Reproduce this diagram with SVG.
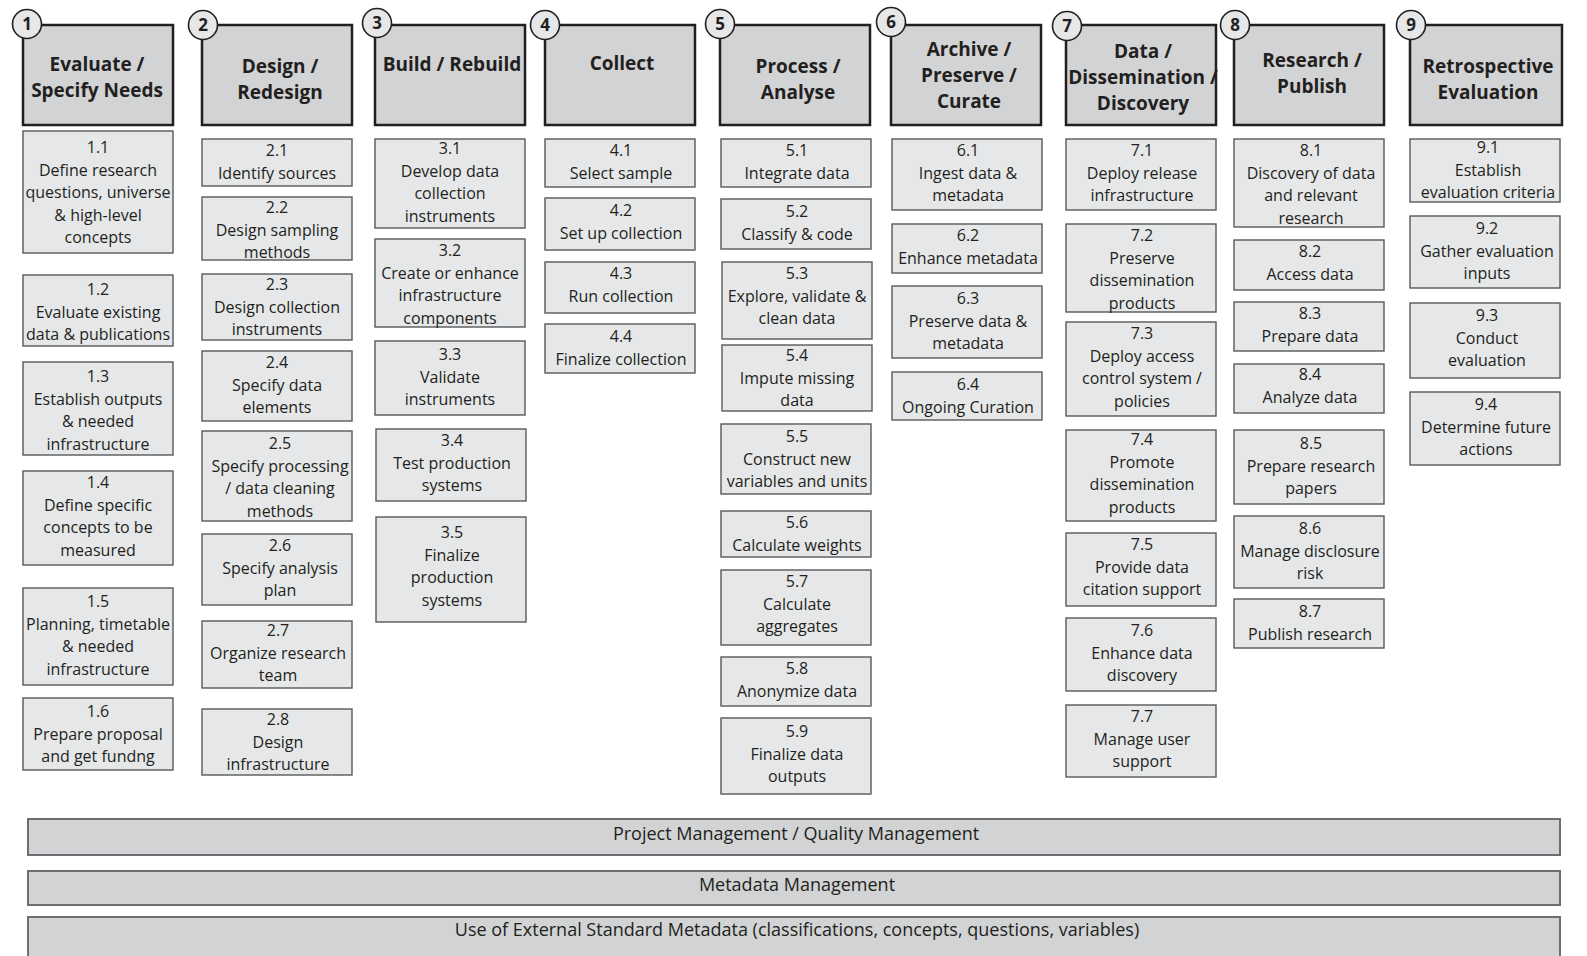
<svg xmlns="http://www.w3.org/2000/svg" width="1587" height="956" viewBox="0 0 1587 956">
<style>
.hd{fill:#d1d3d4;stroke:#231f20;stroke-width:2.5}
.sb{fill:#e6e7e8;stroke:#58595b;stroke-width:1.4}
.bar{fill:#d1d3d4;stroke:#6d6e71;stroke-width:2}
.ci{fill:#e6e7e8;stroke:#231f20;stroke-width:1.6}
.ht{font-family:"Open Sans","Noto Sans",sans-serif;font-weight:bold;font-size:19px;fill:#231f20;text-anchor:middle}
.st{font-family:"Open Sans","Noto Sans",sans-serif;font-size:16px;fill:#231f20;text-anchor:middle}
.nt{font-family:"Open Sans","Noto Sans",sans-serif;font-weight:bold;font-size:17px;fill:#231f20;text-anchor:middle}
.bt{font-family:"Open Sans","Noto Sans",sans-serif;font-size:18px;fill:#231f20;text-anchor:middle}
</style>
<rect width="1587" height="956" fill="#ffffff"/>
<g id="connectors"/>

<!-- Headers -->
<g id="h1"><rect class="hd" x="23" y="25" width="150" height="100"/><circle class="ci" cx="27" cy="24" r="14.5"/><text class="nt" x="27" y="30">1</text><text class="ht" x="97" y="71">Evaluate /<tspan x="97" dy="26">Specify Needs</tspan></text></g>
<g id="h2"><rect class="hd" x="202" y="25" width="150" height="100"/><circle class="ci" cx="203" cy="25" r="14.5"/><text class="nt" x="203" y="31">2</text><text class="ht" x="280" y="73">Design /<tspan x="280" dy="26">Redesign</tspan></text></g>
<g id="h3"><rect class="hd" x="375" y="25" width="150" height="100"/><circle class="ci" cx="377" cy="23" r="14.5"/><text class="nt" x="377" y="29">3</text><text class="ht" x="452" y="71">Build / Rebuild</text></g>
<g id="h4"><rect class="hd" x="545" y="25" width="150" height="100"/><circle class="ci" cx="545" cy="25" r="14.5"/><text class="nt" x="545" y="31">4</text><text class="ht" x="622" y="70">Collect</text></g>
<g id="h5"><rect class="hd" x="720" y="25" width="150" height="100"/><circle class="ci" cx="720" cy="24" r="14.5"/><text class="nt" x="720" y="30">5</text><text class="ht" x="798" y="73">Process /<tspan x="798" dy="26">Analyse</tspan></text></g>
<g id="h6"><rect class="hd" x="891" y="25" width="150" height="100"/><circle class="ci" cx="891" cy="22" r="14.5"/><text class="nt" x="891" y="28">6</text><text class="ht" x="969" y="56">Archive /<tspan x="969" dy="26">Preserve /</tspan><tspan x="969" dy="26">Curate</tspan></text></g>
<g id="h7"><rect class="hd" x="1066" y="25" width="150" height="100"/><circle class="ci" cx="1067" cy="26" r="14.5"/><text class="nt" x="1067" y="32">7</text><text class="ht" x="1143" y="58">Data /<tspan x="1143" dy="26">Dissemination /</tspan><tspan x="1143" dy="26">Discovery</tspan></text></g>
<g id="h8"><rect class="hd" x="1234" y="25" width="150" height="100"/><circle class="ci" cx="1235" cy="25" r="14.5"/><text class="nt" x="1235" y="31">8</text><text class="ht" x="1312" y="67">Research /<tspan x="1312" dy="26">Publish</tspan></text></g>
<g id="h9"><rect class="hd" x="1410" y="25" width="152" height="100"/><circle class="ci" cx="1411" cy="25" r="14.5"/><text class="nt" x="1411" y="31">9</text><text class="ht" x="1488" y="73">Retrospective<tspan x="1488" dy="26">Evaluation</tspan></text></g>

<!-- Column 1 -->
<g id="n1-1"><rect class="sb" x="23" y="131" width="150" height="122"/><text class="st" x="98" y="153">1.1<tspan x="98" dy="22.5">Define research</tspan><tspan x="98" dy="22.5">questions, universe</tspan><tspan x="98" dy="22.5">&amp; high-level</tspan><tspan x="98" dy="22.5">concepts</tspan></text></g>
<g id="n1-2"><rect class="sb" x="23" y="275" width="150" height="71"/><text class="st" x="98" y="295">1.2<tspan x="98" dy="22.5">Evaluate existing</tspan><tspan x="98" dy="22.5">data &amp; publications</tspan></text></g>
<g id="n1-3"><rect class="sb" x="23" y="362" width="150" height="93"/><text class="st" x="98" y="382">1.3<tspan x="98" dy="22.5">Establish outputs</tspan><tspan x="98" dy="22.5">&amp; needed</tspan><tspan x="98" dy="22.5">infrastructure</tspan></text></g>
<g id="n1-4"><rect class="sb" x="23" y="471" width="150" height="94"/><text class="st" x="98" y="488">1.4<tspan x="98" dy="22.5">Define specific</tspan><tspan x="98" dy="22.5">concepts to be</tspan><tspan x="98" dy="22.5">measured</tspan></text></g>
<g id="n1-5"><rect class="sb" x="23" y="588" width="150" height="97"/><text class="st" x="98" y="607">1.5<tspan x="98" dy="22.5">Planning, timetable</tspan><tspan x="98" dy="22.5">&amp; needed</tspan><tspan x="98" dy="22.5">infrastructure</tspan></text></g>
<g id="n1-6"><rect class="sb" x="23" y="698" width="150" height="72"/><text class="st" x="98" y="717">1.6<tspan x="98" dy="22.5">Prepare proposal</tspan><tspan x="98" dy="22.5">and get fundng</tspan></text></g>

<!-- Column 2 -->
<g id="n2-1"><rect class="sb" x="202" y="139" width="150" height="47"/><text class="st" x="277" y="156">2.1<tspan x="277" dy="22.5">Identify sources</tspan></text></g>
<g id="n2-2"><rect class="sb" x="202" y="197" width="150" height="63"/><text class="st" x="277" y="213">2.2<tspan x="277" dy="22.5">Design sampling</tspan><tspan x="277" dy="22.5">methods</tspan></text></g>
<g id="n2-3"><rect class="sb" x="202" y="274" width="150" height="66"/><text class="st" x="277" y="290">2.3<tspan x="277" dy="22.5">Design collection</tspan><tspan x="277" dy="22.5">instruments</tspan></text></g>
<g id="n2-4"><rect class="sb" x="202" y="351" width="150" height="70"/><text class="st" x="277" y="368">2.4<tspan x="277" dy="22.5">Specify data</tspan><tspan x="277" dy="22.5">elements</tspan></text></g>
<g id="n2-5"><rect class="sb" x="202" y="431" width="150" height="90"/><text class="st" x="280" y="449">2.5<tspan x="280" dy="22.5">Specify processing</tspan><tspan x="280" dy="22.5">/ data cleaning</tspan><tspan x="280" dy="22.5">methods</tspan></text></g>
<g id="n2-6"><rect class="sb" x="202" y="534" width="150" height="71"/><text class="st" x="280" y="551">2.6<tspan x="280" dy="22.5">Specify analysis</tspan><tspan x="280" dy="22.5">plan</tspan></text></g>
<g id="n2-7"><rect class="sb" x="202" y="621" width="150" height="67"/><text class="st" x="278" y="636">2.7<tspan x="278" dy="22.5">Organize research</tspan><tspan x="278" dy="22.5">team</tspan></text></g>
<g id="n2-8"><rect class="sb" x="202" y="709" width="150" height="66"/><text class="st" x="278" y="725">2.8<tspan x="278" dy="22.5">Design</tspan><tspan x="278" dy="22.5">infrastructure</tspan></text></g>

<!-- Column 3 -->
<g id="n3-1"><rect class="sb" x="375" y="139" width="150" height="89"/><text class="st" x="450" y="154">3.1<tspan x="450" dy="22.5">Develop data</tspan><tspan x="450" dy="22.5">collection</tspan><tspan x="450" dy="22.5">instruments</tspan></text></g>
<g id="n3-2"><rect class="sb" x="375" y="239" width="150" height="88"/><text class="st" x="450" y="256">3.2<tspan x="450" dy="22.5">Create or enhance</tspan><tspan x="450" dy="22.5">infrastructure</tspan><tspan x="450" dy="22.5">components</tspan></text></g>
<g id="n3-3"><rect class="sb" x="375" y="341" width="150" height="74"/><text class="st" x="450" y="360">3.3<tspan x="450" dy="22.5">Validate</tspan><tspan x="450" dy="22.5">instruments</tspan></text></g>
<g id="n3-4"><rect class="sb" x="376" y="429" width="150" height="72"/><text class="st" x="452" y="446">3.4<tspan x="452" dy="22.5">Test production</tspan><tspan x="452" dy="22.5">systems</tspan></text></g>
<g id="n3-5"><rect class="sb" x="376" y="517" width="150" height="105"/><text class="st" x="452" y="538">3.5<tspan x="452" dy="22.5">Finalize</tspan><tspan x="452" dy="22.5">production</tspan><tspan x="452" dy="22.5">systems</tspan></text></g>

<!-- Column 4 -->
<g id="n4-1"><rect class="sb" x="545" y="139" width="150" height="48"/><text class="st" x="621" y="156">4.1<tspan x="621" dy="22.5">Select sample</tspan></text></g>
<g id="n4-2"><rect class="sb" x="545" y="198" width="150" height="52"/><text class="st" x="621" y="216">4.2<tspan x="621" dy="22.5">Set up collection</tspan></text></g>
<g id="n4-3"><rect class="sb" x="545" y="262" width="150" height="51"/><text class="st" x="621" y="279">4.3<tspan x="621" dy="22.5">Run collection</tspan></text></g>
<g id="n4-4"><rect class="sb" x="545" y="324" width="150" height="49"/><text class="st" x="621" y="342">4.4<tspan x="621" dy="22.5">Finalize collection</tspan></text></g>

<!-- Column 5 -->
<g id="n5-1"><rect class="sb" x="721" y="139" width="150" height="48"/><text class="st" x="797" y="156">5.1<tspan x="797" dy="22.5">Integrate data</tspan></text></g>
<g id="n5-2"><rect class="sb" x="721" y="199" width="150" height="50"/><text class="st" x="797" y="217">5.2<tspan x="797" dy="22.5">Classify &amp; code</tspan></text></g>
<g id="n5-3"><rect class="sb" x="722" y="262" width="150" height="77"/><text class="st" x="797" y="279">5.3<tspan x="797" dy="22.5">Explore, validate &amp;</tspan><tspan x="797" dy="22.5">clean data</tspan></text></g>
<g id="n5-4"><rect class="sb" x="722" y="345" width="150" height="66"/><text class="st" x="797" y="361">5.4<tspan x="797" dy="22.5">Impute missing</tspan><tspan x="797" dy="22.5">data</tspan></text></g>
<g id="n5-5"><rect class="sb" x="721" y="424" width="150" height="70"/><text class="st" x="797" y="442">5.5<tspan x="797" dy="22.5">Construct new</tspan><tspan x="797" dy="22.5">variables and units</tspan></text></g>
<g id="n5-6"><rect class="sb" x="721" y="511" width="150" height="46"/><text class="st" x="797" y="528">5.6<tspan x="797" dy="22.5">Calculate weights</tspan></text></g>
<g id="n5-7"><rect class="sb" x="721" y="570" width="150" height="75"/><text class="st" x="797" y="587">5.7<tspan x="797" dy="22.5">Calculate</tspan><tspan x="797" dy="22.5">aggregates</tspan></text></g>
<g id="n5-8"><rect class="sb" x="721" y="657" width="150" height="49"/><text class="st" x="797" y="674">5.8<tspan x="797" dy="22.5">Anonymize data</tspan></text></g>
<g id="n5-9"><rect class="sb" x="721" y="718" width="150" height="76"/><text class="st" x="797" y="737">5.9<tspan x="797" dy="22.5">Finalize data</tspan><tspan x="797" dy="22.5">outputs</tspan></text></g>

<!-- Column 6 -->
<g id="n6-1"><rect class="sb" x="892" y="139" width="150" height="71"/><text class="st" x="968" y="156">6.1<tspan x="968" dy="22.5">Ingest data &amp;</tspan><tspan x="968" dy="22.5">metadata</tspan></text></g>
<g id="n6-2"><rect class="sb" x="892" y="224" width="150" height="49"/><text class="st" x="968" y="241">6.2<tspan x="968" dy="22.5">Enhance metadata</tspan></text></g>
<g id="n6-3"><rect class="sb" x="892" y="286" width="150" height="72"/><text class="st" x="968" y="304">6.3<tspan x="968" dy="22.5">Preserve data &amp;</tspan><tspan x="968" dy="22.5">metadata</tspan></text></g>
<g id="n6-4"><rect class="sb" x="892" y="372" width="150" height="48"/><text class="st" x="968" y="390">6.4<tspan x="968" dy="22.5">Ongoing Curation</tspan></text></g>

<!-- Column 7 -->
<g id="n7-1"><rect class="sb" x="1066" y="139" width="150" height="71"/><text class="st" x="1142" y="156">7.1<tspan x="1142" dy="22.5">Deploy release</tspan><tspan x="1142" dy="22.5">infrastructure</tspan></text></g>
<g id="n7-2"><rect class="sb" x="1066" y="224" width="150" height="88"/><text class="st" x="1142" y="241">7.2<tspan x="1142" dy="22.5">Preserve</tspan><tspan x="1142" dy="22.5">dissemination</tspan><tspan x="1142" dy="22.5">products</tspan></text></g>
<g id="n7-3"><rect class="sb" x="1066" y="322" width="150" height="94"/><text class="st" x="1142" y="339">7.3<tspan x="1142" dy="22.5">Deploy access</tspan><tspan x="1142" dy="22.5">control system /</tspan><tspan x="1142" dy="22.5">policies</tspan></text></g>
<g id="n7-4"><rect class="sb" x="1066" y="430" width="150" height="91"/><text class="st" x="1142" y="445">7.4<tspan x="1142" dy="22.5">Promote</tspan><tspan x="1142" dy="22.5">dissemination</tspan><tspan x="1142" dy="22.5">products</tspan></text></g>
<g id="n7-5"><rect class="sb" x="1066" y="533" width="150" height="73"/><text class="st" x="1142" y="550">7.5<tspan x="1142" dy="22.5">Provide data</tspan><tspan x="1142" dy="22.5">citation support</tspan></text></g>
<g id="n7-6"><rect class="sb" x="1066" y="618" width="150" height="73"/><text class="st" x="1142" y="636">7.6<tspan x="1142" dy="22.5">Enhance data</tspan><tspan x="1142" dy="22.5">discovery</tspan></text></g>
<g id="n7-7"><rect class="sb" x="1066" y="705" width="150" height="72"/><text class="st" x="1142" y="722">7.7<tspan x="1142" dy="22.5">Manage user</tspan><tspan x="1142" dy="22.5">support</tspan></text></g>

<!-- Column 8 -->
<g id="n8-1"><rect class="sb" x="1234" y="139" width="150" height="88"/><text class="st" x="1311" y="156">8.1<tspan x="1311" dy="22.5">Discovery of data</tspan><tspan x="1311" dy="22.5">and relevant</tspan><tspan x="1311" dy="22.5">research</tspan></text></g>
<g id="n8-2"><rect class="sb" x="1234" y="240" width="150" height="50"/><text class="st" x="1310" y="257">8.2<tspan x="1310" dy="22.5">Access data</tspan></text></g>
<g id="n8-3"><rect class="sb" x="1234" y="302" width="150" height="49"/><text class="st" x="1310" y="319">8.3<tspan x="1310" dy="22.5">Prepare data</tspan></text></g>
<g id="n8-4"><rect class="sb" x="1234" y="364" width="150" height="49"/><text class="st" x="1310" y="380">8.4<tspan x="1310" dy="22.5">Analyze data</tspan></text></g>
<g id="n8-5"><rect class="sb" x="1234" y="430" width="150" height="74"/><text class="st" x="1311" y="449">8.5<tspan x="1311" dy="22.5">Prepare research</tspan><tspan x="1311" dy="22.5">papers</tspan></text></g>
<g id="n8-6"><rect class="sb" x="1234" y="516" width="150" height="72"/><text class="st" x="1310" y="534">8.6<tspan x="1310" dy="22.5">Manage disclosure</tspan><tspan x="1310" dy="22.5">risk</tspan></text></g>
<g id="n8-7"><rect class="sb" x="1234" y="599" width="150" height="49"/><text class="st" x="1310" y="617">8.7<tspan x="1310" dy="22.5">Publish research</tspan></text></g>

<!-- Column 9 -->
<g id="n9-1"><rect class="sb" x="1410" y="139" width="150" height="63"/><text class="st" x="1488" y="153">9.1<tspan x="1488" dy="22.5">Establish</tspan><tspan x="1488" dy="22.5">evaluation criteria</tspan></text></g>
<g id="n9-2"><rect class="sb" x="1410" y="216" width="150" height="72"/><text class="st" x="1487" y="234">9.2<tspan x="1487" dy="22.5">Gather evaluation</tspan><tspan x="1487" dy="22.5">inputs</tspan></text></g>
<g id="n9-3"><rect class="sb" x="1410" y="303" width="150" height="75"/><text class="st" x="1487" y="321">9.3<tspan x="1487" dy="22.5">Conduct</tspan><tspan x="1487" dy="22.5">evaluation</tspan></text></g>
<g id="n9-4"><rect class="sb" x="1410" y="392" width="150" height="73"/><text class="st" x="1486" y="410">9.4<tspan x="1486" dy="22.5">Determine future</tspan><tspan x="1486" dy="22.5">actions</tspan></text></g>

<!-- Bottom bars -->
<g id="bar-pm"><rect class="bar" x="28" y="819" width="1532" height="36"/><text class="bt" x="796" y="840">Project Management / Quality Management</text></g>
<g id="bar-mm"><rect class="bar" x="28" y="871" width="1532" height="34"/><text class="bt" x="797" y="891">Metadata Management</text></g>
<g id="bar-ext"><rect class="bar" x="28" y="917" width="1532" height="45"/><text class="bt" x="797" y="936">Use of External Standard Metadata (classifications, concepts, questions, variables)</text></g>
</svg>
